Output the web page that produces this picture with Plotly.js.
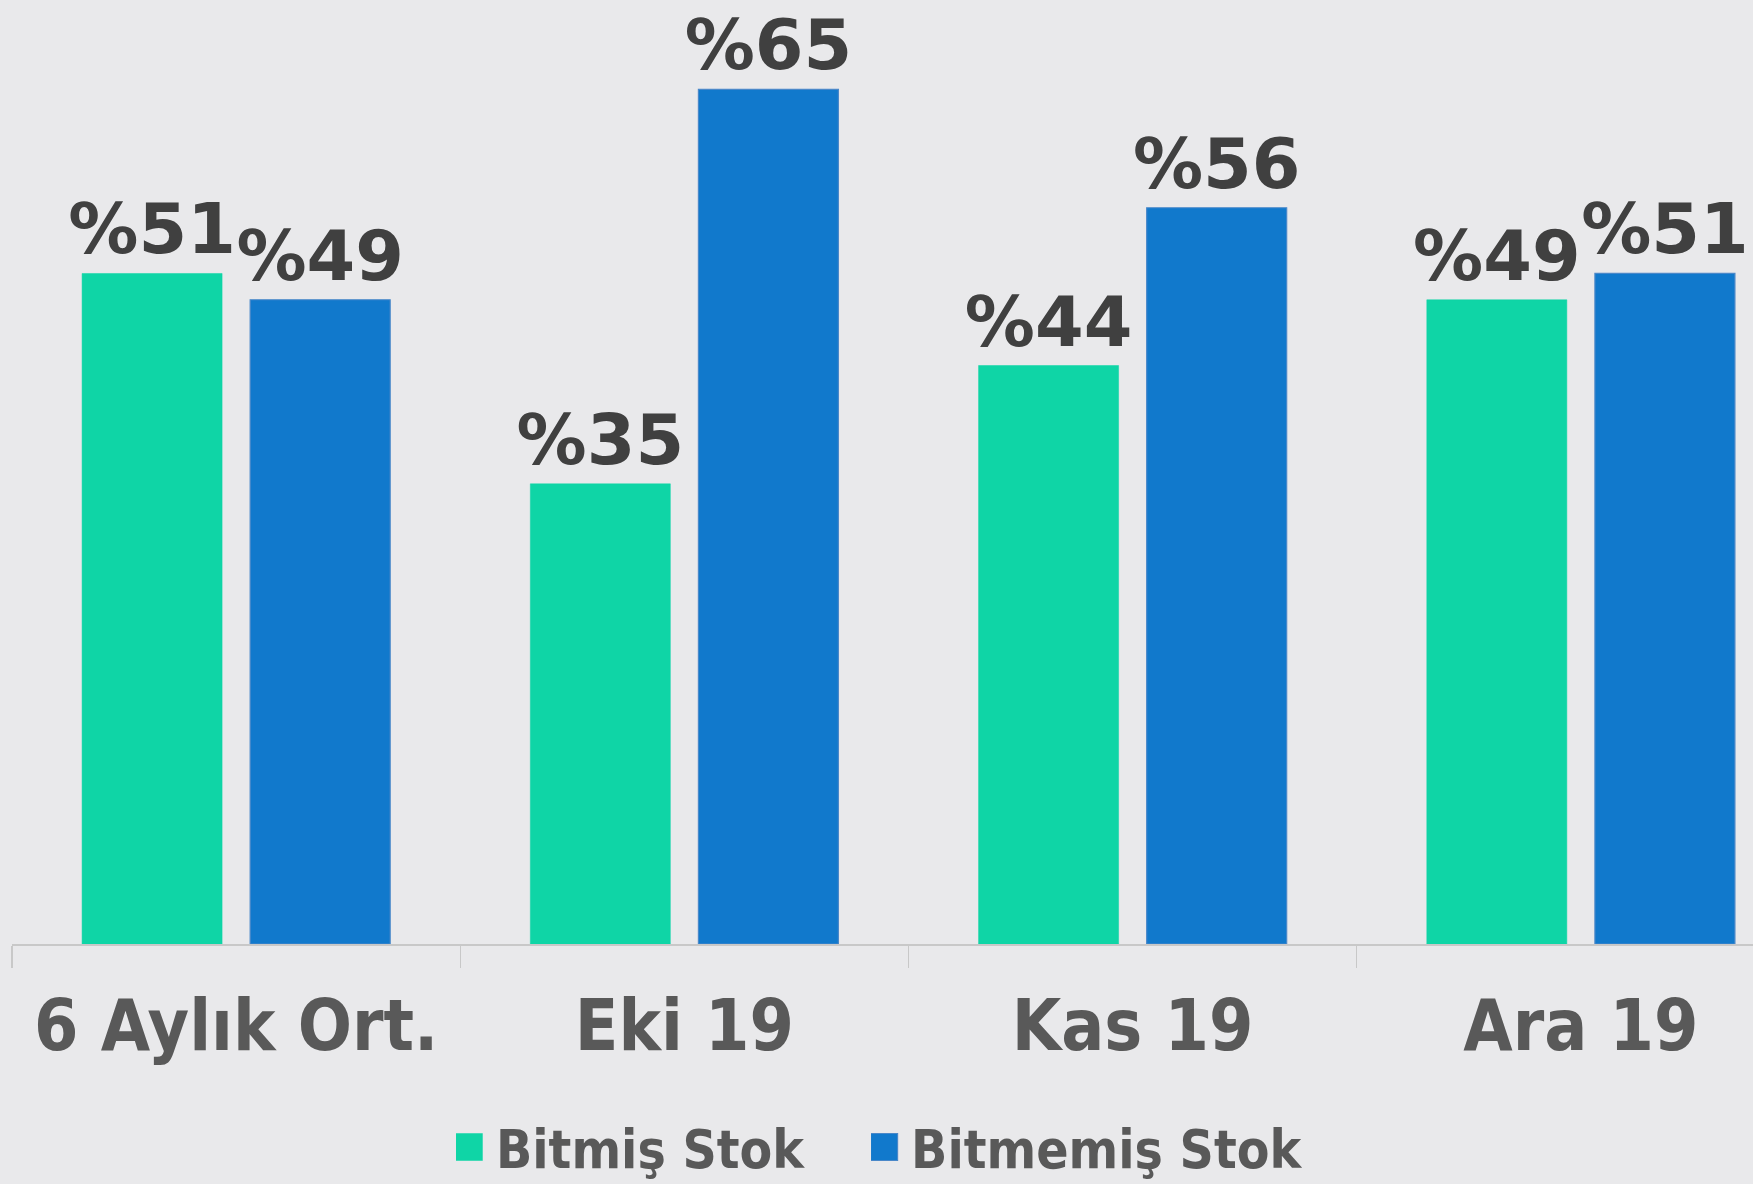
<!DOCTYPE html>
<html>
<head>
<meta charset="utf-8">
<script src="https://cdn.plot.ly/plotly-3.0.1.min.js"></script>
<style>
  html, body { margin: 0; padding: 0; background: #e9e9eb; }
  #chart { width: 1753px; height: 1184px; }
</style>
</head>
<body>
<div id="chart"></div>
<script>
const categories = ["6 Aylık Ort.", "Eki 19", "Kas 19", "Ara 19"];
const bitmisStok = [51, 35, 44, 49];
const bitmemisStok = [49, 65, 56, 51];
const seriesNames = ["Bitmiş Stok", "Bitmemiş Stok"];

const labelFont = { family: "DejaVu Sans", size: 70, color: "#404040", weight: "bold" };
const legendFont = { family: "DejaVu Sans Condensed", size: 53, color: "#595959", weight: "bold" };

const traces = [
  {
    type: "bar", name: seriesNames[0], x: categories, y: bitmisStok, legend: "legend",
    marker: { color: "#0fd5a6", line: { width: 0.5, color: "#0fd5a6" } },
    text: bitmisStok.map(v => "%" + v), textposition: "outside",
    textfont: labelFont, constraintext: "none", cliponaxis: false,
    hoverinfo: "skip"
  },
  {
    type: "bar", name: seriesNames[1], x: categories, y: bitmemisStok, legend: "legend2",
    marker: { color: "#1179cc", line: { width: 1.2, color: "#4a88c9" } },
    text: bitmemisStok.map(v => "%" + v), textposition: "outside",
    textfont: labelFont, constraintext: "none", cliponaxis: false,
    hoverinfo: "skip"
  }
];

const legendBase = {
  orientation: "h", xref: "container", yref: "container",
  xanchor: "left", y: 0.0312, yanchor: "middle",
  font: legendFont, bgcolor: "rgba(0,0,0,0)", borderwidth: 0, itemclick: false
};

const layout = {
  width: 1753, height: 1184,
  paper_bgcolor: "#e9e9eb", plot_bgcolor: "rgba(0,0,0,0)",
  margin: { l: 12, r: 0, t: 0, b: 240, pad: 0 },
  barmode: "group", bargap: 0.25, bargroupgap: 0.167,
  showlegend: true,
  legend: Object.assign({}, legendBase, { x: 0.2601 }),
  legend2: Object.assign({}, legendBase, { x: 0.4969 }),
  xaxis: {
    type: "category", range: [-0.5, 3.384],
    showline: true, linecolor: "#c8c8c8", linewidth: 1.5,
    ticks: "outside", tickson: "boundaries", ticklen: 22, tickcolor: "#c8c8c8", tickwidth: 1.2,
    tickfont: { family: "DejaVu Sans Condensed", size: 71, color: "#595959", weight: "bold" },
    ticklabelstandoff: 19,
    showgrid: false, zeroline: false, fixedrange: true
  },
  yaxis: {
    range: [0, 71.8], visible: false, showgrid: false, zeroline: false, fixedrange: true
  }
};

Plotly.newPlot("chart", traces, layout, { staticPlot: true }).then(function () {
  document.querySelectorAll(".legendpoints path").forEach(function (p) {
    p.setAttribute("d", "M6.5,13.5H-20.5V-13.5H6.5Z");
  });
});
</script>
</body>
</html>
